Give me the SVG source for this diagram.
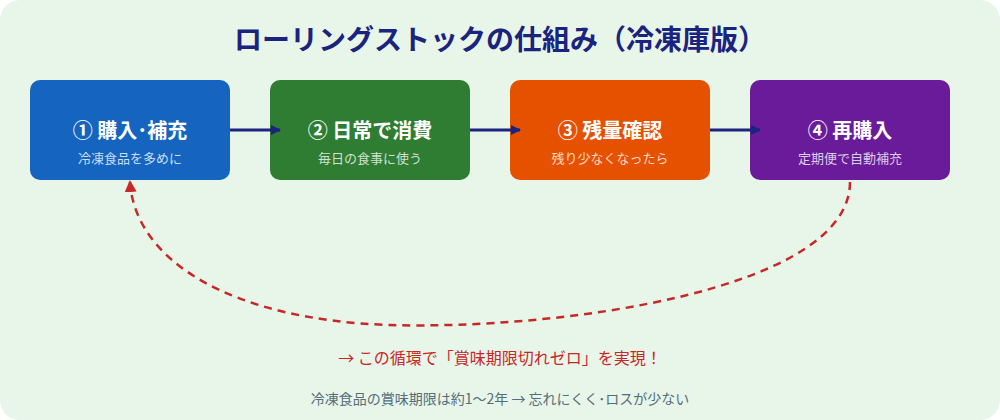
<svg xmlns="http://www.w3.org/2000/svg" width="1000" height="420" viewBox="0 0 1000 420">
<style>
text{font-family:"Noto Sans CJK JP","Noto Sans",sans-serif;text-anchor:middle}
.t{font-size:20px;font-weight:bold;fill:#fff}
.s{font-size:13px;fill:#fff;fill-opacity:0.78}
</style>
<defs>
<marker id="a" markerWidth="10" markerHeight="10" refX="9" refY="5" orient="auto" markerUnits="userSpaceOnUse"><path d="M0,0 L10,5 L0,10 Z" fill="#1a237e"/></marker>
<marker id="r" markerWidth="12" markerHeight="12" refX="10" refY="6" orient="auto" markerUnits="userSpaceOnUse"><path d="M0,0 L12,6 L0,12 Z" fill="#c62828"/></marker>
</defs>
<rect x="0" y="0" width="1000" height="420" rx="20" fill="#e8f5e9"/>
<text x="500" y="50" style="font-size:28px;font-weight:bold;fill:#1a237e">ローリングストックの仕組み（冷凍庫版）</text>
<g id="n1"><rect x="30" y="80" width="200" height="100" rx="10" fill="#1565c0"/><text class="t" x="130" y="138">① 購入･補充</text><text class="s" x="130" y="163">冷凍食品を多めに</text></g>
<g id="n2"><rect x="270" y="80" width="200" height="100" rx="10" fill="#2e7d32"/><text class="t" x="370" y="138">② 日常で消費</text><text class="s" x="370" y="163">毎日の食事に使う</text></g>
<g id="n3"><rect x="510" y="80" width="200" height="100" rx="10" fill="#e65100"/><text class="t" x="610" y="138">③ 残量確認</text><text class="s" x="610" y="163">残り少なくなったら</text></g>
<g id="n4"><rect x="750" y="80" width="200" height="100" rx="10" fill="#6a1b9a"/><text class="t" x="850" y="138">④ 再購入</text><text class="s" x="850" y="163">定期便で自動補充</text></g>
<g id="connectors" fill="none">
<path d="M230,130 H280" stroke="#1a237e" stroke-width="3" marker-end="url(#a)"/>
<path d="M470,130 H520" stroke="#1a237e" stroke-width="3" marker-end="url(#a)"/>
<path d="M710,130 H760" stroke="#1a237e" stroke-width="3" marker-end="url(#a)"/>
<path d="M850,182 C850,290 560,330 390,325 C230,320 135,260 130,182" stroke="#c62828" stroke-width="2.5" stroke-dasharray="8,6" marker-end="url(#r)"/>
</g>
<text x="500" y="364" style="font-size:16px;fill:#c62828">→ この循環で「賞味期限切れゼロ」を実現！</text>
<text x="500" y="404" style="font-size:14px;fill:#546e7a">冷凍食品の賞味期限は約1〜2年 → 忘れにくく･ロスが少ない</text>
</svg>
